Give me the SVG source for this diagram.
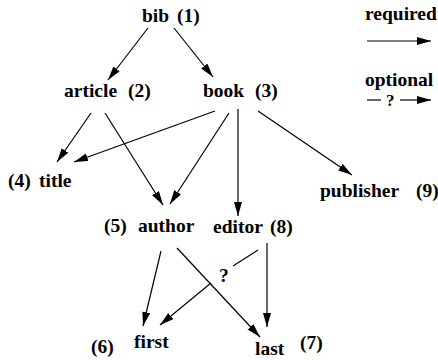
<svg xmlns="http://www.w3.org/2000/svg" width="438" height="360" viewBox="0 0 438 360">
<style>
text{font-family:"Liberation Serif","Times New Roman",serif;font-weight:bold;font-size:19.5px;fill:#000}
.c{stroke:#000;stroke-width:1.2;fill:none;marker-end:url(#ah)}
.p{stroke:#000;stroke-width:1.2;fill:none}
</style>
<defs>
<marker id="ah" markerUnits="userSpaceOnUse" markerWidth="15" markerHeight="9" refX="14" refY="4" orient="auto">
<path d="M0,0 L14,4 L0,8 z" fill="#000"/>
</marker>
</defs>
<g id="node-bib"><text x="142" y="22">bib</text><text x="177" y="22">(1)</text></g>
<g id="node-article"><text x="64" y="97">article</text><text x="128" y="97">(2)</text></g>
<g id="node-book"><text x="203" y="97">book</text><text x="255" y="97">(3)</text></g>
<g id="node-title"><text x="8" y="187">(4)</text><text x="39" y="187">title</text></g>
<g id="node-author"><text x="104" y="232">(5)</text><text x="138" y="232">author</text></g>
<g id="node-first"><text x="91" y="353">(6)</text><text x="134" y="348">first</text></g>
<g id="node-last"><text x="255" y="355">last</text><text x="300" y="349">(7)</text></g>
<g id="node-editor"><text x="213" y="233">editor</text><text x="270" y="233">(8)</text></g>
<g id="node-publisher"><text x="320" y="197">publisher</text><text x="416" y="197">(9)</text></g>
<g id="legend">
<text x="365" y="20">required</text>
<line class="c" x1="367" y1="41" x2="431" y2="41"/>
<text x="365" y="86">optional</text>
<line class="p" x1="367" y1="100" x2="381" y2="100"/>
<text x="386" y="106" style="font-size:17px">?</text>
<line class="c" x1="400" y1="100" x2="431" y2="100"/>
</g>
<g id="connectors">
<line class="c" x1="148" y1="28" x2="108" y2="80"/>
<line class="c" x1="174" y1="28" x2="213" y2="77"/>
<line class="c" x1="91" y1="113" x2="57" y2="162"/>
<line class="c" x1="105" y1="113" x2="163" y2="205"/>
<line class="c" x1="215" y1="111" x2="74" y2="162"/>
<line class="c" x1="229" y1="113" x2="170" y2="204"/>
<line class="c" x1="238" y1="109" x2="238" y2="216"/>
<line class="c" x1="258" y1="111" x2="352" y2="175"/>
<line class="c" x1="161" y1="251" x2="143" y2="326"/>
<line class="c" x1="177" y1="248" x2="260" y2="337"/>
<path class="c" d="M258,250 L233,266 M211,283 L160,325"/>
<text x="219" y="282">?</text>
<line class="c" x1="267" y1="243" x2="267" y2="327"/>
</g>
</svg>
